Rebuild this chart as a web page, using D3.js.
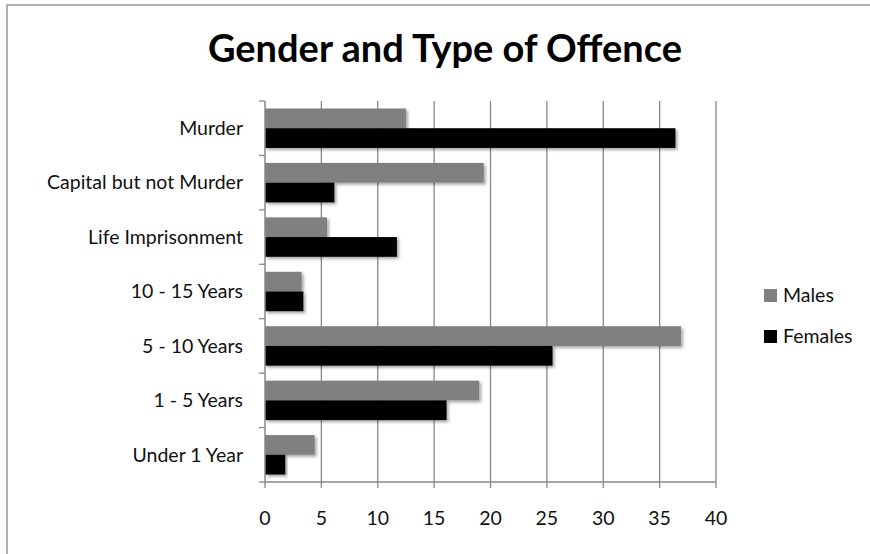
<!DOCTYPE html>
<html>
<head>
<meta charset="utf-8">
<script src="https://cdn.jsdelivr.net/npm/d3@7"></script>
<style>
  body { margin: 0; background: #fff; }
  svg { font-family: Lato, "Open Sans", sans-serif; }
</style>
</head>
<body>
<svg id="chart" width="870" height="554"></svg>
<script>
// data
const categories = ["Murder", "Capital but not Murder", "Life Imprisonment", "10 - 15 Years",
                    "5 - 10 Years", "1 - 5 Years", "Under 1 Year"];
const males   = [12.5, 19.4, 5.5, 3.25, 36.9, 19.0, 4.4];
const females = [36.4, 6.15, 11.7, 3.4, 25.5, 16.1, 1.8];
const seriesNames = ["Males", "Females"];
const seriesColors = ["#808080", "#000000"];
const xTicks = [0, 5, 10, 15, 20, 25, 30, 35, 40];

const svg = d3.select("#chart");
const plotLeft = 265, plotRight = 716, plotTop = 101, plotBottom = 482;

// chart border (only top/left visible)
svg.append("rect")
  .attr("x", 7).attr("y", 5)
  .attr("width", 900).attr("height", 600)
  .attr("fill", "none")
  .attr("stroke", "#999")
  .attr("stroke-width", 1.5);

// shadow filter for bars
const defs = svg.append("defs");
const f = defs.append("filter").attr("id", "shadow")
  .attr("x", "-5%").attr("y", "-20%").attr("width", "115%").attr("height", "160%");
f.append("feDropShadow")
  .attr("dx", 2).attr("dy", 2).attr("stdDeviation", 1.5)
  .attr("flood-color", "#000").attr("flood-opacity", 0.35);

svg.append("text")
  .attr("x", 445).attr("y", 62)
  .attr("text-anchor", "middle")
  .attr("font-size", "38px")
  .attr("font-weight", "bold")
  .text("Gender and Type of Offence");

const x = d3.scaleLinear().domain([0, 40]).range([plotLeft, plotRight]);
const y = d3.scaleBand().domain(categories).range([plotTop, plotBottom]);
const yInner = d3.scaleBand().domain(seriesNames).range([0, y.bandwidth()]).paddingOuter(0.38);

// gridlines
svg.append("g").selectAll("line")
  .data(xTicks.slice(1))
  .enter().append("line")
  .attr("x1", d => x(d)).attr("x2", d => x(d))
  .attr("y1", plotTop).attr("y2", plotBottom)
  .attr("stroke", "#888").attr("stroke-width", 1.3);

// bars
const groups = svg.append("g").selectAll("g")
  .data(categories)
  .enter().append("g")
  .attr("transform", d => "translate(0," + y(d) + ")");

groups.selectAll("rect")
  .data((d, i) => [{s: "Males", v: males[i]}, {s: "Females", v: females[i]}])
  .enter().append("rect")
  .attr("x", x(0))
  .attr("y", d => yInner(d.s))
  .attr("width", d => x(d.v) - x(0))
  .attr("height", yInner.bandwidth())
  .attr("fill", (d, i) => seriesColors[i])
  .attr("filter", "url(#shadow)");

// left axis
const yAxis = svg.append("g")
  .attr("transform", "translate(" + plotLeft + ",0)");
yAxis.append("line")
  .attr("x1", 0).attr("x2", 0).attr("y1", plotTop).attr("y2", plotBottom)
  .attr("stroke", "#888").attr("stroke-width", 1.5);
yAxis.selectAll(".tk")
  .data(d3.range(categories.length + 1))
  .enter().append("line")
  .attr("x1", -6).attr("x2", 0)
  .attr("y1", i => plotTop + i * y.step()).attr("y2", i => plotTop + i * y.step())
  .attr("stroke", "#888").attr("stroke-width", 1.3);
yAxis.selectAll("text")
  .data(categories)
  .enter().append("text")
  .attr("x", -22)
  .attr("y", d => y(d) + y.bandwidth() / 2)
  .attr("dy", "0.35em")
  .attr("text-anchor", "end")
  .attr("font-size", "19.5px")
  .attr("fill", "#111")
  .text(d => d);

// bottom axis
const xAxis = svg.append("g")
  .attr("transform", "translate(0," + plotBottom + ")");
xAxis.append("line")
  .attr("x1", plotLeft).attr("x2", plotRight)
  .attr("stroke", "#888").attr("stroke-width", 1.5);
xAxis.selectAll(".tk")
  .data(xTicks)
  .enter().append("line")
  .attr("x1", d => x(d)).attr("x2", d => x(d))
  .attr("y1", 0).attr("y2", 6)
  .attr("stroke", "#888").attr("stroke-width", 1.3);
xAxis.selectAll("text")
  .data(xTicks)
  .enter().append("text")
  .attr("x", d => x(d))
  .attr("y", 43)
  .attr("text-anchor", "middle")
  .attr("font-size", "19.5px")
  .attr("fill", "#111")
  .text(d => d);

// legend
const legend = svg.append("g").selectAll("g")
  .data(seriesNames)
  .enter().append("g")
  .attr("transform", (d, i) => "translate(764," + (295.5 + i * 41) + ")");
legend.append("rect")
  .attr("x", 0).attr("y", -6.5)
  .attr("width", 13).attr("height", 13)
  .attr("fill", (d, i) => seriesColors[i]);
legend.append("text")
  .attr("x", 19).attr("y", 0)
  .attr("dy", "0.35em")
  .attr("font-size", "19.5px")
  .attr("fill", "#111")
  .text(d => d);
</script>
</body>
</html>
